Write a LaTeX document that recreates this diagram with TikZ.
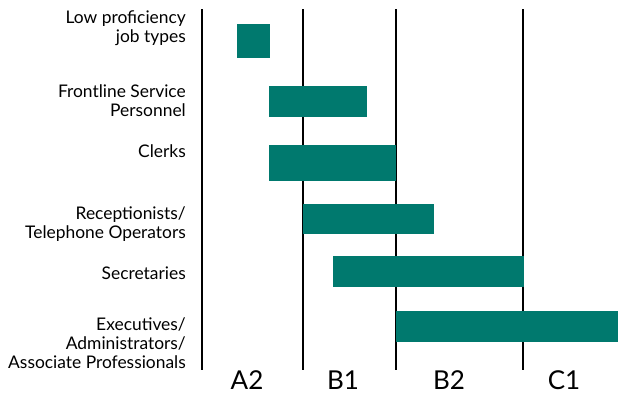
\documentclass[tikz,border=0pt]{standalone}
\usepackage{fontspec}
\setmainfont{Lato}
\definecolor{barteal}{RGB}{0,121,110}
\tikzset{
  bar/.style={fill=barteal},
  band/.style={line width=2.4pt,black},
  joblabel/.style={anchor=base east,align=right,inner sep=0pt,font=\fontsize{17.4}{19}\selectfont},
  levellabel/.style={anchor=base,inner sep=0pt,font=\fontsize{26}{28}\selectfont}
}
\begin{document}
\begin{tikzpicture}[x=1pt,y=-1pt]
\useasboundingbox (0,0) rectangle (618,392);

\draw[band] (202,9) -- (202,370); %A2 left
\draw[band] (303,9) -- (303,370); %A2/B1
\draw[band] (396,9) -- (396,370); %B1/B2
\draw[band] (523,9) -- (523,370); %B2/C1

\fill[bar] (237,24) rectangle (270,58);  %low
\fill[bar] (269,86) rectangle (367,117); %frontline
\fill[bar] (269,145) rectangle (396,181); %clerks
\fill[bar] (303,204) rectangle (434,234); %receptionists
\fill[bar] (333,256) rectangle (524,287); %secretaries
\fill[bar] (396,311) rectangle (618,342); %executives

% base = last line
\node[joblabel] (low) at (186,42) {Low proficiency\\job types};
\node[joblabel] (front) at (186,116) {Frontline Service\\Personnel};
\node[joblabel] (clerk) at (186,157) {Clerks};
\node[joblabel] (recep) at (186,238) {Receptionists/\\Telephone Operators};
\node[joblabel] (secr) at (186,279) {Secretaries};
\node[joblabel] (exec) at (186,368) {Executives/\\Administrators/\\Associate Professionals};

\node[levellabel] (atwo) at (247,389) {A2};
\node[levellabel] (bone) at (343,389) {B1};
\node[levellabel] (btwo) at (449,389) {B2};
\node[levellabel] (cone) at (564,389) {C1};
\end{tikzpicture}
\end{document}
